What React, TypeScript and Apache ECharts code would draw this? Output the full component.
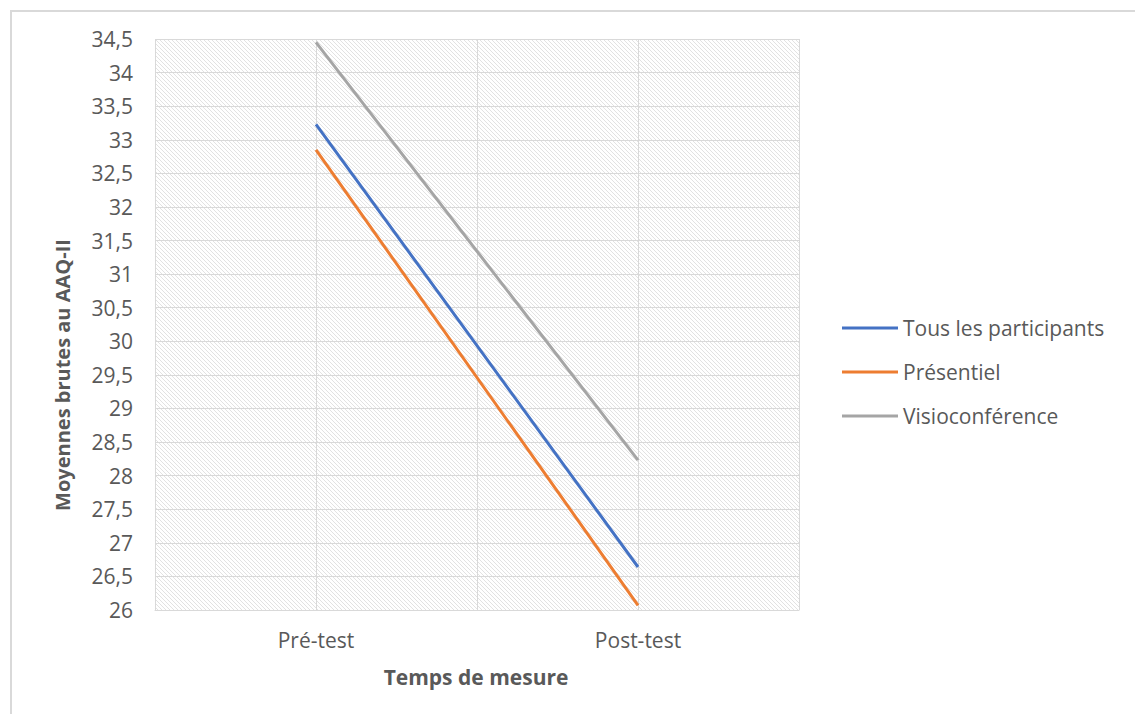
import React, { useEffect, useRef } from "react";
import * as echarts from "echarts";

const categories = ["Pré-test", "Post-test"];
const seriesNames = ["Tous les participants", "Présentiel", "Visioconférence"];
const tousValues = [33.23, 26.64];
const presentielValues = [32.85, 26.07];
const visioValues = [34.45, 28.23];
const seriesColors = ["#4472C4", "#ED7D31", "#A5A5A5"];
const yMin = 26;
const yMax = 34.5;
const yStep = 0.5;

const FONT = "'Open Sans', sans-serif";
const TEXT = "#595959";

const hatchSvg =
  "data:image/svg+xml;charset=utf-8," +
  encodeURIComponent(
    "<svg xmlns='http://www.w3.org/2000/svg' width='4' height='4'>" +
      "<path d='M0,0 L4,4 M-1,3 L1,5 M3,-1 L5,1' stroke='#e2e2e2' stroke-width='1'/>" +
      "</svg>"
  );

export default function App() {
  const ref = useRef<HTMLDivElement>(null);
  useEffect(() => {
    if (!ref.current) return;
    const chart = echarts.init(ref.current, undefined, { renderer: "svg" });
    const values = [tousValues, presentielValues, visioValues];
    chart.setOption({
      animation: false,
      backgroundColor: "#ffffff",
      textStyle: { fontFamily: FONT },
      grid: {
        left: 155,
        right: 336,
        top: 39,
        bottom: 104,
        show: true,
        borderWidth: 0,
        backgroundColor: {
          image: hatchSvg,
          repeat: "repeat",
          imageWidth: 4,
          imageHeight: 4,
        } as any,
      },
      legend: {
        orient: "vertical",
        left: 837,
        top: 311,
        icon: "rect",
        itemWidth: 56,
        itemHeight: 3,
        itemGap: 20,
        data: seriesNames,
        textStyle: { color: TEXT, fontSize: 21, fontFamily: FONT, lineHeight: 24 },
      },
      xAxis: [
        {
          type: "category",
          data: categories,
          boundaryGap: true,
          axisLine: { show: true, lineStyle: { color: "#d9d9d9", width: 1 } },
          axisTick: { show: false },
          splitLine: { show: false },
          axisLabel: { color: TEXT, fontSize: 21, fontFamily: FONT, margin: 19 },
        },
        {
          type: "value",
          min: 0,
          max: 4,
          interval: 1,
          show: true,
          position: "bottom",
          axisLine: { show: false },
          axisTick: { show: false },
          axisLabel: { show: false },
          splitLine: { show: true, lineStyle: { color: "#d9d9d9", width: 1 } },
        },
      ],
      yAxis: {
        type: "value",
        min: yMin,
        max: yMax,
        interval: yStep,
        axisLine: { show: false },
        axisTick: { show: false },
        splitLine: { show: true, lineStyle: { color: "#d9d9d9", width: 1 } },
        axisLabel: {
          color: TEXT,
          fontSize: 21,
          fontFamily: FONT,
          margin: 22,
          formatter: (v: number) => String(v).replace(".", ","),
        },
      },
      graphic: [
        {
          type: "line",
          shape: { x1: 10, y1: 11, x2: 1135, y2: 11 },
          style: { stroke: "#d9d9d9", lineWidth: 2 },
          silent: true,
        },
        {
          type: "line",
          shape: { x1: 11, y1: 10, x2: 11, y2: 714 },
          style: { stroke: "#d9d9d9", lineWidth: 2 },
          silent: true,
        },
        {
          type: "text",
          x: 62,
          y: 375,
          rotation: Math.PI / 2,
          style: {
            text: "Moyennes brutes au AAQ-II",
            fill: TEXT,
            font: `bold 20px ${FONT}`,
            align: "center",
            verticalAlign: "middle",
          },
        },
        {
          type: "text",
          x: 476,
          y: 677,
          style: {
            text: "Temps de mesure",
            fill: TEXT,
            font: `bold 21px ${FONT}`,
            align: "center",
            verticalAlign: "middle",
          },
        },
      ],
      series: seriesNames.map((name, i) => ({
        name,
        type: "line",
        xAxisIndex: 0,
        data: values[i],
        symbol: "none",
        lineStyle: { color: seriesColors[i], width: 3 },
        itemStyle: { color: seriesColors[i] },
      })),
    });
    return () => chart.dispose();
  }, []);
  return (
    <div
      ref={ref}
      style={{ position: "fixed", left: 0, top: 0, width: 1135, height: 714 }}
    />
  );
}
